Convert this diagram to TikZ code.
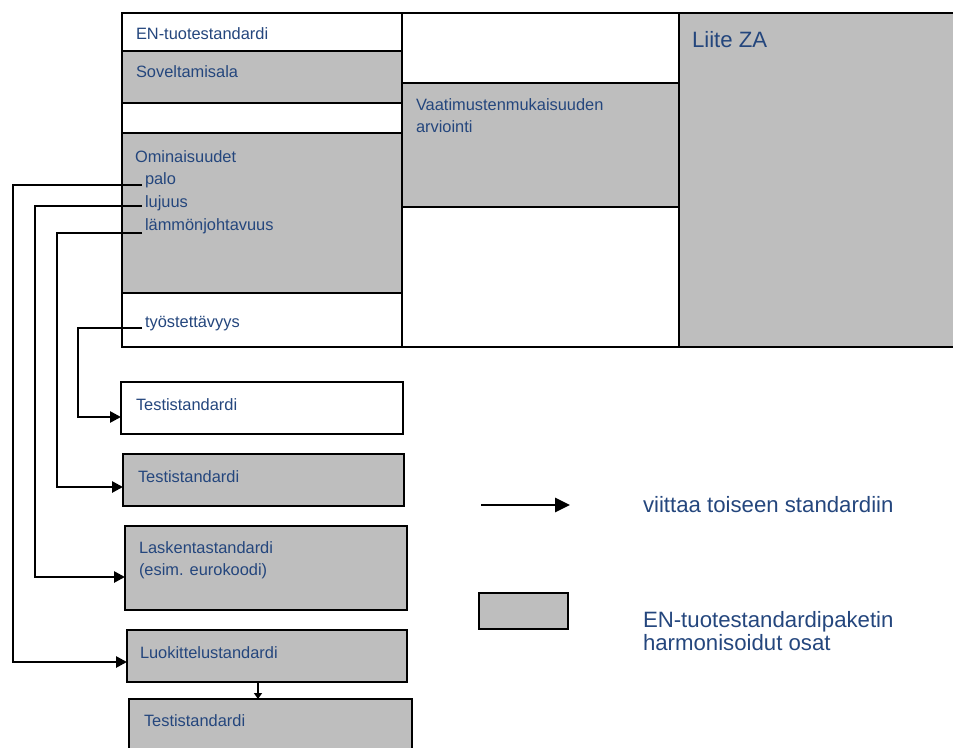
\documentclass[tikz,border=0pt]{standalone}
\usepackage{fontspec}
\setmainfont{Liberation Sans}
\usetikzlibrary{arrows.meta}
\definecolor{harm}{RGB}{190,190,190}
\definecolor{tc}{RGB}{36,70,125}
\tikzset{
  box/.style={draw=black, line width=2.6pt, rectangle, inner sep=0pt, outer sep=0pt, anchor=north west},
  gbox/.style={box, fill=harm},
  wbox/.style={box, fill=white},
  txt/.style={anchor=base west, inner sep=0pt, outer sep=0pt, text=tc, font=\fontsize{16.4}{19}\selectfont},
  bigtxt/.style={anchor=base west, inner sep=0pt, outer sep=0pt, text=tc, font=\fontsize{22.2}{26}\selectfont},
  conn/.style={draw=black, line width=2.6pt, -{Triangle[length=11pt,width=11pt]}},
  smallconn/.style={draw=black, line width=1.8pt, -{Triangle[length=6pt,width=8pt]}},
  legarrow/.style={draw=black, line width=2.8pt, -{Triangle[length=15pt,width=14pt]}}
}
\begin{document}
\begin{tikzpicture}[x=1pt,y=1pt]
\useasboundingbox (0,0) rectangle (953,-747);
% top structure, left column
\node[wbox, minimum width=280pt, minimum height=38pt] (en) at (122,-13) {};
\node[gbox, minimum width=280pt, minimum height=52pt] (sov) at (122,-51) {};
\node[wbox, minimum width=280pt, minimum height=30pt] (gap) at (122,-103) {};
\node[gbox, minimum width=280pt, minimum height=160pt] (omi) at (122,-133) {};
\node[wbox, minimum width=280pt, minimum height=54pt] (tyo) at (122,-293) {};
% middle column
\node[wbox, minimum width=277pt, minimum height=70pt] (mid1) at (402,-13) {};
\node[gbox, minimum width=277pt, minimum height=124pt] (va) at (402,-83) {};
\node[wbox, minimum width=277pt, minimum height=140pt] (mid3) at (402,-207) {};
% right column
\node[gbox, minimum width=300pt, minimum height=334pt] (za) at (679,-13) {};
% texts in top structure
\node[txt] (tEN) at (136,-39) {EN-tuotestandardi};
\node[txt] (tSov) at (136,-77) {Soveltamisala};
\node[txt] (tOmi) at (135,-162) {Ominaisuudet};
\node[txt] (palo) at (145,-184) {palo};
\node[txt] (lujuus) at (145,-207) {lujuus};
\node[txt] (lammo) at (145,-230) {lämmönjohtavuus};
\node[txt] (tyost) at (145,-327) {työstettävyys};
\node[txt] (tVa1) at (416,-110) {Vaatimustenmukaisuuden};
\node[txt] (tVa2) at (416,-132) {arviointi};
\node[bigtxt] (tZA) at (692,-47) {Liite ZA};
% lower boxes
\node[wbox, minimum width=282pt, minimum height=52pt] (t1) at (121,-382) {};
\node[gbox, minimum width=281pt, minimum height=52pt] (t2) at (123,-454) {};
\node[gbox, minimum width=282pt, minimum height=84pt] (lask) at (125,-526) {};
\node[gbox, minimum width=280pt, minimum height=52pt] (luok) at (127,-630) {};
\node[gbox, minimum width=283pt, minimum height=80pt] (t3) at (129,-699) {};
\node[txt] (tT1) at (136,-410) {Testistandardi};
\node[txt] (tT2) at (138,-482) {Testistandardi};
\node[txt] (tLa1) at (139,-553) {Laskentastandardi};
\node[txt] (tLa2) at (139,-575) {(esim. eurokoodi)};
\node[txt] (tLu) at (140,-658) {Luokittelustandardi};
\node[txt] (tT3) at (144,-726) {Testistandardi};
% connector corners
\coordinate (k1) at (13,-185);
\coordinate (k2) at (35,-206);
\coordinate (k3) at (57,-233);
\coordinate (k4) at (78,-328);
\draw[conn] ([xshift=-3pt,yshift=-1pt]palo.base west) -- (k1) |- ([yshift=-6pt]luok.west);
\draw[conn] ([xshift=-3pt,yshift=1pt]lujuus.base west) -- (k2) |- ([yshift=-9pt]lask.west);
\draw[conn] ([xshift=-3pt,yshift=-3pt]lammo.base west) -- (k3) |- ([yshift=-7pt]t2.west);
\draw[conn] ([xshift=-3pt,yshift=-1pt]tyost.base west) -- (k4) |- ([yshift=-9pt]t1.west);
\draw[smallconn] ([xshift=-9pt]luok.south) -- ([xshift=-9pt]luok.south |- t3.north);
% legend
\coordinate (la1) at (481,-505);
\coordinate (la2) at (570,-505);
\draw[legarrow] (la1) -- (la2);
\node[bigtxt] (lg1) at (643,-512) {viittaa toiseen standardiin};
\node[gbox, minimum width=89pt, minimum height=36pt] (lgbox) at (479,-593) {};
\node[bigtxt] (lg2) at (643,-627) {EN-tuotestandardipaketin};
\node[bigtxt] (lg3) at (643,-650) {harmonisoidut osat};
\end{tikzpicture}
\end{document}
